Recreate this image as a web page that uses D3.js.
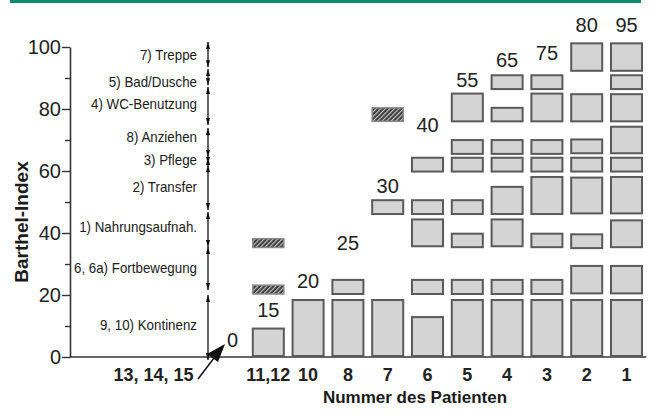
<!DOCTYPE html>
<html><head><meta charset="utf-8">
<script src="https://cdn.jsdelivr.net/npm/d3@7/dist/d3.min.js"></script>
<style>
body{margin:0;background:#fff}
svg{display:block}
text{font-family:"Liberation Sans",Arial,sans-serif;fill:#1a1a1a}
</style>
</head><body>
<svg id="chart" width="651" height="417"></svg>
<script>
// ---------- data ----------
const categories = ["13, 14, 15", "11,12", "10", "8", "7", "6", "5", "4", "3", "2", "1"];
const totals = [0, 15, 20, 25, 30, 40, 55, 65, 75, 80, 95];
// value (Barthel points) at which each total label sits
const totalLabelAt = [3.2, 12.9, 22.3, 34.5, 53, 72.6, 87.1, 93.5, 95.8, 104.8, 104.8];
// achieved item blocks per patient, [from, to] in Barthel points
const solidBlocks = [
  [],
  [[0, 9.5]],
  [[0, 18.7]],
  [[0, 18.7], [20, 25.2]],
  [[0, 18.7], [45.8, 50.9]],
  [[0, 13.2], [20, 25.2], [35.4, 44.7], [45.8, 50.9], [59.5, 64.6]],
  [[0, 18.7], [20, 25.2], [35.1, 40.1], [45.8, 50.9], [59.5, 64.6], [65.2, 70.3], [75.7, 85.3]],
  [[0, 18.7], [20, 25.2], [35.4, 44.7], [45.8, 55.2], [59.5, 64.6], [65.2, 70.3], [75.7, 80.7], [86.1, 91.2]],
  [[0, 18.7], [20, 25.2], [35.1, 40.1], [45.8, 58.4], [59.5, 64.6], [65.2, 70.3], [75.7, 85.3], [86.1, 91.2]],
  [[0, 18.7], [20.2, 29.7], [34.8, 39.9], [46, 58.2], [59.5, 64.6], [65.4, 70.5], [75.7, 85.1], [92, 101.5]],
  [[0, 18.7], [20.2, 29.7], [35.1, 44.4], [46, 58.4], [59.5, 64.6], [65.4, 74.6], [75.7, 85.1], [86.1, 91.2], [92, 101.5]]
];
const hatchedBlocks = [
  [], [[20, 23.5], [35, 38.5]], [], [], [[75.7, 80.7]], [], [], [], [], [], []
];
// Barthel items (left legend) with arrow ranges and label position
const itemNames = ["9, 10) Kontinenz", "6, 6a) Fortbewegung", "1) Nahrungsaufnah.", "2) Transfer", "3) Pflege", "8) Anziehen", "4) WC-Benutzung", "5) Bad/Dusche", "7) Treppe"];
const itemFrom = [-1, 21.6, 35.5, 47.4, 62.3, 64.5, 74.8, 87.7, 93.5];
const itemTo = [20, 35.5, 46.8, 61.9, 64.2, 73.9, 87.1, 92.9, 101.6];
const itemLabelAt = [10.3, 28.6, 41.9, 54.8, 63.5, 71, 81.6, 88.7, 97.4];
const yTicks = [0, 10, 20, 30, 40, 50, 60, 70, 80, 90, 100];

// ---------- chart ----------
const svg = d3.select("#chart");
svg.append("rect").attr("x", 10).attr("y", 0).attr("width", 631).attr("height", 3).attr("fill", "#0b8a70");

const y = d3.scaleLinear().domain([0, 100]).range([357, 47]);
const x = d3.scaleBand().domain(categories).range([208.6, 646.4]).paddingInner(0.17).paddingOuter(0.085);
const axisX0 = 70;

const defs = svg.append("defs");
const pat = defs.append("pattern").attr("id", "hatch").attr("patternUnits", "userSpaceOnUse")
  .attr("width", 3.2).attr("height", 3.2).attr("patternTransform", "rotate(45)");
pat.append("rect").attr("width", 3.2).attr("height", 3.2).attr("fill", "#3d3d3d");
pat.append("rect").attr("width", 1.1).attr("height", 3.2).attr("fill", "#c8c8c8");

const mk = defs.append("marker").attr("id", "ah").attr("markerUnits", "userSpaceOnUse")
  .attr("viewBox", "0 0 10 6").attr("refX", 10).attr("refY", 3)
  .attr("markerWidth", 7).attr("markerHeight", 5).attr("orient", "auto-start-reverse");
mk.append("path").attr("d", "M0,0 L10,3 L0,6 Z").attr("fill", "#111");

// Y axis
const yAxis = d3.axisLeft(y).tickValues(yTicks).tickSizeOuter(0)
  .tickFormat(d => d % 20 === 0 ? d : "").tickPadding(8);
const gy = svg.append("g").attr("transform", `translate(${axisX0},0)`).call(yAxis);
gy.select(".domain").attr("stroke", "#333").attr("stroke-width", 1.6);
gy.selectAll(".tick line").attr("stroke", "#333").attr("stroke-width", 1.4)
  .attr("x2", d => d % 20 === 0 ? -8 : -5);
gy.selectAll(".tick text").attr("font-size", 20).attr("x", -9).style("fill", "#222")
  .attr("font-family", "Liberation Sans, Arial, sans-serif");

// X axis
const xAxis = d3.axisBottom(x).tickSize(0).tickPadding(11);
const gx = svg.append("g").attr("transform", `translate(0,${y(0)})`).call(xAxis);
gx.select(".domain").remove();
gx.append("line").attr("x1", axisX0).attr("x2", x.range()[1]).attr("y1", 0).attr("y2", 0)
  .attr("stroke", "#333").attr("stroke-width", 1.6);
gx.selectAll(".tick text").attr("font-size", 18).attr("font-weight", "bold").style("fill", "#222")
  .attr("font-family", "Liberation Sans, Arial, sans-serif")
  .attr("dx", d => d === categories[0] ? -75 : 0);

// pointer arrow from "13, 14, 15" to the origin of its column
svg.append("line").attr("x1", 198).attr("y1", 379).attr("x2", 214).attr("y2", 358)
  .attr("stroke", "#111").attr("stroke-width", 1.5);
svg.append("path").attr("d", "M225,344 L218,362 L207,354 Z").attr("fill", "#111");

// axis titles
svg.append("text").attr("transform", "translate(28,222) rotate(-90)").attr("text-anchor", "middle")
  .attr("font-size", 19).attr("font-weight", "bold").text("Barthel-Index");
svg.append("text").attr("x", 415).attr("y", 403).attr("text-anchor", "middle")
  .attr("font-size", 17).attr("font-weight", "bold").text("Nummer des Patienten");

// item legend: labels and double arrows
const arrowX = 208;
itemNames.forEach((n, i) => {
  svg.append("text").attr("transform", `translate(197,${y(itemLabelAt[i])}) scale(0.92,1)`)
    .attr("dy", "0.35em").attr("text-anchor", "end").attr("font-size", 14.5).text(n);
  svg.append("line").attr("x1", arrowX).attr("x2", arrowX)
    .attr("y1", y(itemFrom[i])).attr("y2", y(itemTo[i]))
    .attr("stroke", "#111").attr("stroke-width", 1.3)
    .attr("marker-start", "url(#ah)").attr("marker-end", "url(#ah)");
});

// blocks
const bw = x.bandwidth();
categories.forEach((c, i) => {
  const g = svg.append("g");
  solidBlocks[i].forEach(([a, b]) => {
    g.append("rect").attr("x", x(c) + 1).attr("width", bw - 2)
      .attr("y", y(b) + 1).attr("height", y(a) - y(b) - 2)
      .attr("fill", "#d4d4d4").attr("stroke", "#5a5a5a").attr("stroke-width", 2);
  });
  hatchedBlocks[i].forEach(([a, b]) => {
    g.append("rect").attr("x", x(c) + 1).attr("width", bw - 2)
      .attr("y", y(b) + 1).attr("height", y(a) - y(b) - 2)
      .attr("fill", "url(#hatch)").attr("stroke", "#8a8a8a").attr("stroke-width", 1.5);
  });
  svg.append("text").attr("x", x(c) + bw / 2 + (i === 0 ? 4 : 0)).attr("y", y(totalLabelAt[i]))
    .attr("text-anchor", "middle").attr("font-size", 20).style("fill", "#222").text(totals[i]);
});
</script>
</body></html>
